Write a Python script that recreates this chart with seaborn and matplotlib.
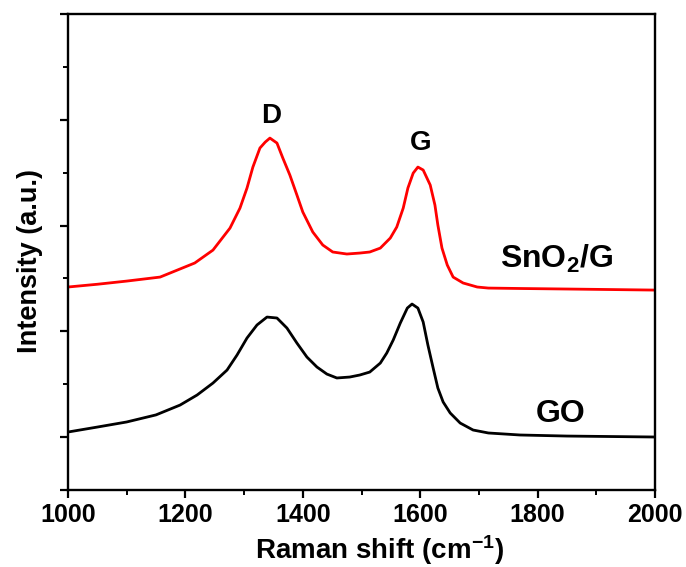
import numpy as np
import pandas as pd
import matplotlib
matplotlib.use("Agg")
import matplotlib.pyplot as plt
from matplotlib.ticker import FixedLocator
import seaborn as sns

# Raman shift (cm^-1) and intensity (a.u.)
snog_shift = [1000, 1050, 1100, 1157, 1216, 1247, 1276, 1293, 1305, 1315, 1327, 1336,
              1344, 1356, 1366, 1378, 1390, 1400, 1417, 1434, 1451, 1475, 1497, 1514,
              1532, 1549, 1560, 1571, 1579, 1588, 1596, 1605, 1617, 1625, 1630, 1637,
              1646, 1656, 1673, 1697, 1716, 1770, 1850, 1925, 2000]
snog_int = [1919, 1945, 1975, 2013, 2146, 2268, 2476, 2665, 2855, 3053, 3233, 3289,
            3327, 3280, 3138, 2977, 2788, 2628, 2439, 2316, 2250, 2231, 2240, 2250,
            2287, 2382, 2486, 2665, 2855, 2996, 3053, 3025, 2883, 2694, 2505, 2287,
            2127, 2013, 1957, 1919, 1909, 1905, 1900, 1895, 1890]

go_shift = [1000, 1050, 1100, 1150, 1191, 1220, 1247, 1271, 1288, 1305, 1322, 1339,
            1356, 1373, 1390, 1407, 1424, 1441, 1458, 1480, 1497, 1514, 1532, 1543,
            1554, 1566, 1578, 1586, 1596, 1605, 1613, 1622, 1630, 1639, 1651, 1668,
            1690, 1716, 1770, 1850, 2000]
go_int = [548, 595, 643, 710, 803, 898, 1011, 1134, 1276, 1437, 1560, 1635,
          1626, 1531, 1389, 1257, 1163, 1096, 1059, 1068, 1087, 1115, 1200, 1295,
          1418, 1578, 1720, 1758, 1720, 1588, 1371, 1153, 964, 832, 728, 633,
          567, 539, 520, 510, 501]

x_ticks = [1000, 1200, 1400, 1600, 1800, 2000]
x_minor = [1100, 1300, 1500, 1700, 1900]
y_major = [0, 500, 1500, 2500, 3500, 4500]
y_minor = [1000, 2000, 3000, 4000]

df = pd.concat([
    pd.DataFrame({"shift": snog_shift, "intensity": snog_int, "sample": "SnO2/G"}),
    pd.DataFrame({"shift": go_shift, "intensity": go_int, "sample": "GO"}),
])

sns.set_style("ticks")
plt.rcParams["font.family"] = ["Liberation Sans", "DejaVu Sans"]
plt.rcParams["font.weight"] = "bold"
plt.rcParams["text.color"] = "black"
plt.rcParams["axes.labelcolor"] = "black"
plt.rcParams["xtick.color"] = "black"
plt.rcParams["ytick.color"] = "black"
plt.rcParams["mathtext.fontset"] = "custom"
plt.rcParams["mathtext.rm"] = "Liberation Sans:bold"
plt.rcParams["mathtext.bf"] = "Liberation Sans:bold"
plt.rcParams["mathtext.default"] = "bf"

fig = plt.figure(figsize=(6.86, 5.67), dpi=100)
ax = fig.add_axes([0.099, 0.1358, 0.856, 0.8395])

sns.lineplot(data=df, x="shift", y="intensity", hue="sample",
             palette={"SnO2/G": "#ff0000", "GO": "#000000"},
             linewidth=2.0, legend=False, ax=ax, sort=True, estimator=None)

ax.set_xlim(1000, 2000)
ax.set_ylim(0, 4500)
ax.set_xticks(x_ticks)
ax.xaxis.set_minor_locator(FixedLocator(x_minor))
ax.yaxis.set_major_locator(FixedLocator(y_major))
ax.yaxis.set_minor_locator(FixedLocator(y_minor))
ax.set_yticklabels([])
ax.set_xticklabels([str(t) for t in x_ticks], fontsize=18, fontweight="bold")

for s in ax.spines.values():
    s.set_visible(True)
    s.set_linewidth(1.7)
    s.set_color("black")
ax.tick_params(axis="both", which="major", direction="out", length=6, width=1.6)
ax.tick_params(axis="both", which="minor", direction="out", length=3.5, width=1.4)
ax.tick_params(axis="x", pad=3)

ax.set_xlabel("Raman shift (cm$^{-1}$)", fontsize=20, fontweight="bold", va="center")
ax.set_ylabel("Intensity (a.u.)", fontsize=19.5, fontweight="bold", va="center")
ax.xaxis.set_label_coords(0.531, -0.126)
ax.yaxis.set_label_coords(-0.0647, 0.481)

ax.text(1346, 3469, "D", fontsize=20, fontweight="bold", ha="center", va="baseline")
ax.text(1601, 3214, "G", fontsize=20, fontweight="bold", ha="center", va="baseline")
ax.text(1736, 2098, "SnO$_2$/G", fontsize=23, fontweight="bold", ha="left", va="baseline")
ax.text(1796, 643, "GO", fontsize=23, fontweight="bold", ha="left", va="baseline")

fig.savefig("out.png", dpi=100)
